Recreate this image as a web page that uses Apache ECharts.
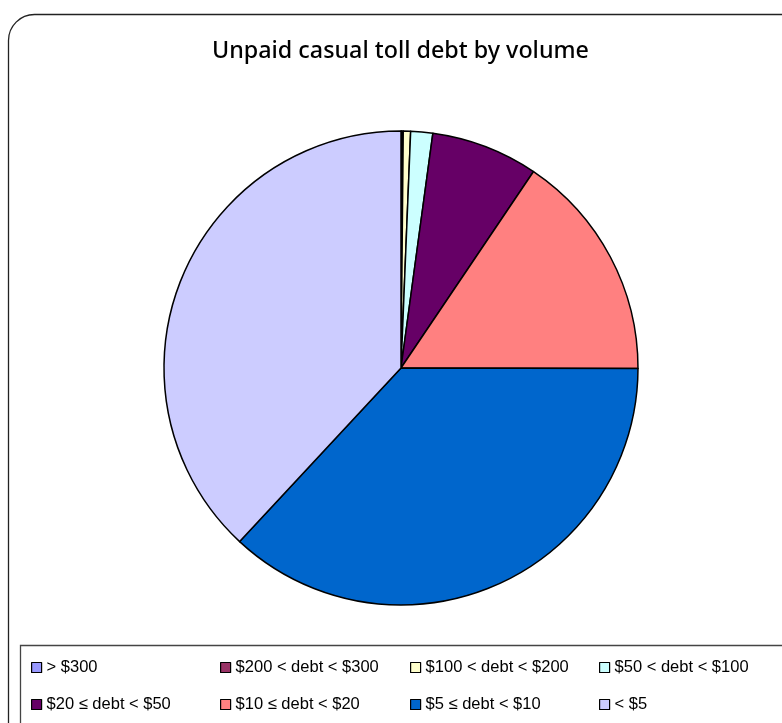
<!DOCTYPE html>
<html>
<head>
<meta charset="utf-8">
<script src="https://cdn.jsdelivr.net/npm/echarts@6/dist/echarts.min.js"></script>
<style>html,body{margin:0;padding:0;background:#fff;}#c{width:782px;height:723px;}</style>
</head>
<body>
<div id="c"></div>
<script>
const categories = ['> $300', '$200 < debt < $300', '$100 < debt < $200', '$50 < debt < $100', '$20 ≤ debt < $50', '$10 ≤ debt < $20', '$5 ≤ debt < $10', '< $5'];
const values = [0.05, 0.1, 0.5, 1.5, 7.3, 15.6, 36.9, 38.1];
const colors = ['#9999FF', '#993366', '#FFFFCC', '#CCFFFF', '#660066', '#FF8080', '#0066CC', '#CCCCFF'];

const chart = echarts.init(document.getElementById('c'), null, {renderer: 'canvas'});
const data = categories.map((n, i) => ({name: n, value: values[i], itemStyle: {color: colors[i]}}));
const colX = [26, 215, 405, 594];
const legends = colX.map((x, k) => ({
  orient: 'vertical',
  left: x,
  top: 654,
  itemGap: 20,
  itemWidth: 10,
  itemHeight: 10,
  icon: 'rect',
  selectedMode: false,
  itemStyle: {borderColor: '#000', borderWidth: 1.2},
  textStyle: {fontFamily: 'Liberation Sans, Arial', fontSize: 16.5, color: '#000'},
  data: [categories[k], categories[k + 4]]
}));
chart.setOption({
  animation: false,
  color: colors,
  title: {
    text: 'Unpaid casual toll debt by volume',
    left: 207,
    top: 35,
    textStyle: {fontFamily: 'Noto Sans', fontSize: 23.3, fontWeight: 500, color: '#000'}
  },
  graphic: [
    {type: 'rect', shape: {x: 8.5, y: 14.5, width: 800, height: 760, r: 26}, style: {fill: 'none', stroke: '#222', lineWidth: 1.3}, z: -10},
    {type: 'rect', shape: {x: 20.5, y: 645.5, width: 800, height: 100}, style: {fill: '#fff', stroke: '#444', lineWidth: 1.3}, z: -5}
  ],
  legend: legends,
  series: [{
    type: 'pie',
    center: [401, 368],
    radius: 237,
    startAngle: 90,
    clockwise: true,
    label: {show: false},
    labelLine: {show: false},
    emphasis: {disabled: true},
    itemStyle: {borderColor: '#000', borderWidth: 1.5},
    data: data
  }]
});
</script>
</body>
</html>
